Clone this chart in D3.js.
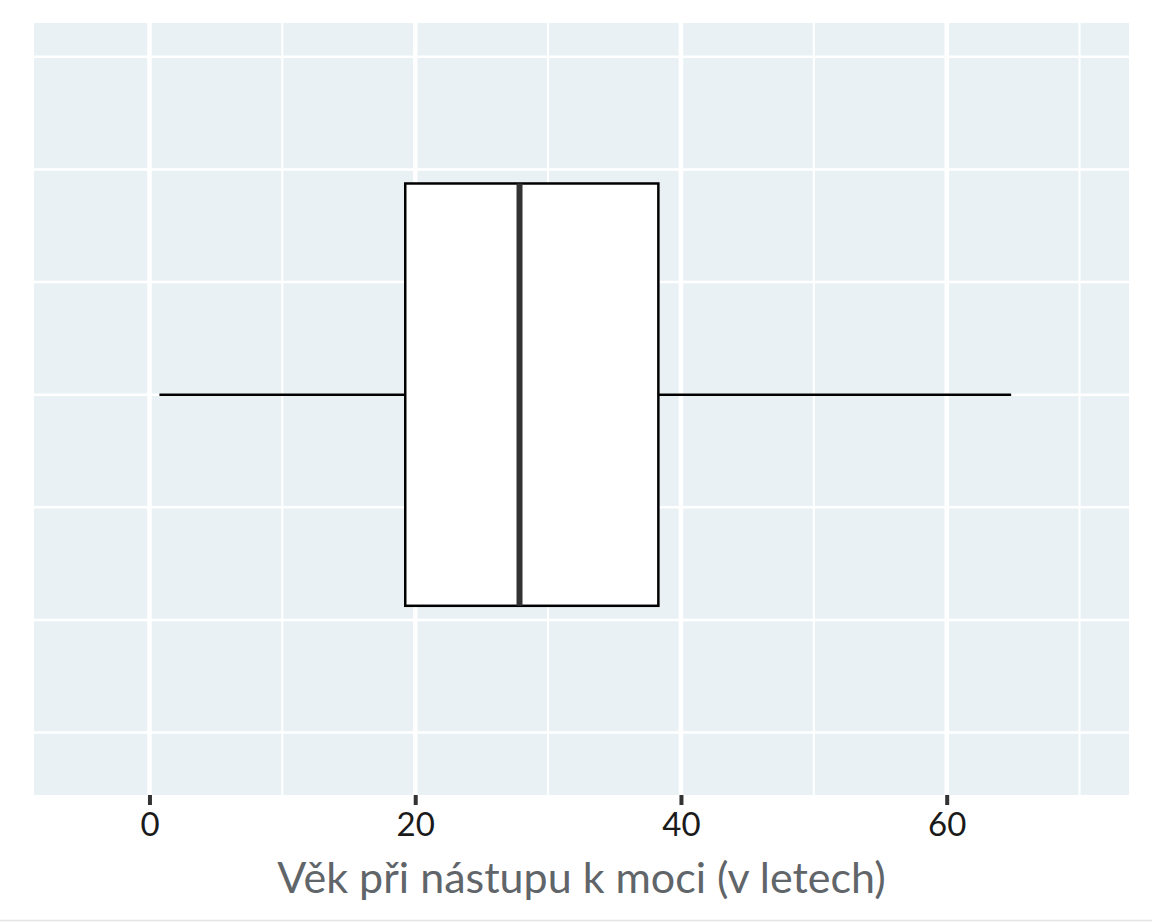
<!DOCTYPE html>
<html>
<head>
<meta charset="utf-8">
<script src="https://cdn.jsdelivr.net/npm/d3@7"></script>
<style>
  html, body { margin: 0; padding: 0; background: #fff; }
  svg { display: block; font-family: Lato, "Open Sans", sans-serif; }
</style>
</head>
<body>
<svg id="chart" width="1152" height="922"></svg>
<script>
// Věk při nástupu k moci – krabicový graf
const xTicks = [0, 20, 40, 60];
const xMinorTicks = [10, 30, 50, 70];
const yGrid = [-0.6, -0.4, -0.2, 0, 0.2, 0.4, 0.6];

// min, Q1, medián, Q3, max
const boxStats = [0.75, 19.25, 27.85, 38.3, 64.85];
const axisTitle = 'Věk při nástupu k moci (v letech)';

const svg = d3.select('#chart');
const panel = { left: 34, right: 1129, top: 23, bottom: 795 };

const x = d3.scaleLinear()
    .domain([-8.69, 73.72])
    .range([panel.left, panel.right]);

const y = d3.scaleLinear()
    .domain([-0.711, 0.660])
    .range([panel.bottom, panel.top]);

// pozadí panelu
svg.append('rect')
    .attr('x', panel.left)
    .attr('y', panel.top)
    .attr('width', panel.right - panel.left)
    .attr('height', panel.bottom - panel.top)
    .attr('fill', '#e9f1f5');

// mřížka
const grid = svg.append('g').attr('class', 'grid');
grid.selectAll('line.minor-x')
    .data(xMinorTicks)
    .join('line')
    .attr('class', 'minor-x')
    .attr('x1', d => x(d)).attr('x2', d => x(d))
    .attr('y1', panel.top).attr('y2', panel.bottom)
    .attr('stroke', '#fff')
    .attr('stroke-width', 2);

grid.selectAll('line.h')
    .data(yGrid)
    .join('line')
    .attr('class', 'h')
    .attr('x1', panel.left).attr('x2', panel.right)
    .attr('y1', d => y(d)).attr('y2', d => y(d))
    .attr('stroke', '#fff')
    .attr('stroke-width', 2.5);

grid.selectAll('line.major-x')
    .data(xTicks)
    .join('line')
    .attr('class', 'major-x')
    .attr('x1', d => x(d)).attr('x2', d => x(d))
    .attr('y1', panel.top).attr('y2', panel.bottom)
    .attr('stroke', '#fff')
    .attr('stroke-width', 4.5);

// krabice
const [mn, q1, med, q3, mx] = boxStats;
const box = svg.append('g').attr('class', 'box');

box.append('line')
    .attr('x1', x(mn)).attr('x2', x(q1))
    .attr('y1', y(0)).attr('y2', y(0))
    .attr('stroke', '#000').attr('stroke-width', 2.5);
box.append('line')
    .attr('x1', x(q3)).attr('x2', x(mx))
    .attr('y1', y(0)).attr('y2', y(0))
    .attr('stroke', '#000').attr('stroke-width', 2.5);

box.append('rect')
    .attr('x', x(q1))
    .attr('y', y(0.375))
    .attr('width', x(q3) - x(q1))
    .attr('height', y(-0.375) - y(0.375))
    .attr('fill', '#fff')
    .attr('stroke', '#000')
    .attr('stroke-width', 2.5);

box.append('line')
    .attr('x1', x(med)).attr('x2', x(med))
    .attr('y1', y(0.375)).attr('y2', y(-0.375))
    .attr('stroke', '#333')
    .attr('stroke-width', 6);

// osa x
const xAxis = d3.axisBottom(x)
    .tickValues(xTicks)
    .tickSize(10)
    .tickPadding(8);

const axisG = svg.append('g')
    .attr('transform', `translate(0,${panel.bottom})`)
    .call(xAxis);
axisG.select('.domain').remove();
axisG.selectAll('.tick line')
    .attr('stroke', '#333')
    .attr('stroke-width', 4);
axisG.selectAll('.tick text')
    .attr('font-family', 'Lato, sans-serif')
    .attr('font-size', 33)
    .attr('fill', '#1a1a1a');

svg.append('text')
    .attr('x', (panel.left + panel.right) / 2)
    .attr('y', 893)
    .attr('text-anchor', 'middle')
    .attr('font-size', 43)
    .attr('fill', '#5f6569')
    .text(axisTitle);

// spodní linka obrázku
svg.append('line')
    .attr('x1', 0).attr('x2', 1152)
    .attr('y1', 920.5).attr('y2', 920.5)
    .attr('stroke', '#e4e4e4')
    .attr('stroke-width', 1.5);
</script>
</body>
</html>
